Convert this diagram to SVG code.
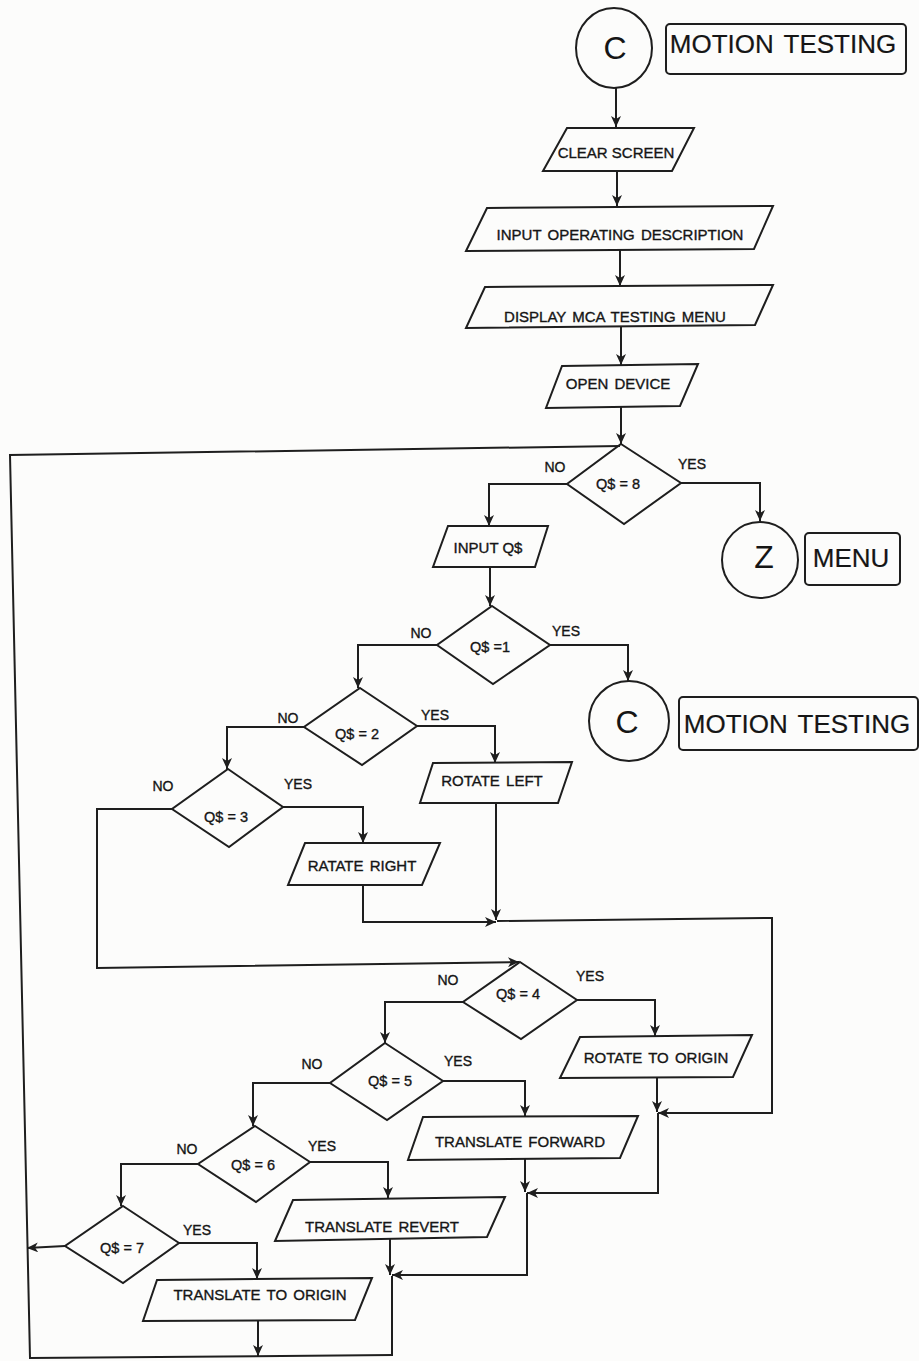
<svg xmlns="http://www.w3.org/2000/svg" width="919" height="1361" viewBox="0 0 919 1361">
  <style>
    .shape { fill: none; stroke: #1e1e1e; stroke-width: 2; stroke-linejoin: miter; }
    .wire { fill: none; stroke: #1e1e1e; stroke-width: 2; }
    .arrow { marker-end: url(#head); }
    text { font-family: "Liberation Sans", Arial, sans-serif; fill: #151515; stroke: #151515; stroke-width: 0.35; text-anchor: middle; }
    .t { font-size: 15px; word-spacing: 2px; }
    .d { font-size: 14.5px; }
    .l { font-size: 14px; }
    .big { font-size: 26px; word-spacing: 3px; stroke-width: 0.2; }
    .con { font-size: 32px; stroke-width: 0; }
  </style>
  <defs>
    <marker id="head" markerUnits="userSpaceOnUse" markerWidth="12" markerHeight="10" refX="11" refY="5" orient="auto">
      <path d="M0,0 L11,5 L0,10 L3,5 z" fill="#1e1e1e"/>
    </marker>
  </defs>

  <rect x="0" y="0" width="919" height="1361" fill="#fcfcfb"/>

  <!-- connectors -->
  <g id="connectors">
    <path class="wire arrow" d="M616,88 V127"/>
    <path class="wire arrow" d="M617,171 V206"/>
    <path class="wire arrow" d="M620,250 V286"/>
    <path class="wire arrow" d="M621,327 V365"/>
    <path class="wire arrow" d="M621,407 V444"/>
    <!-- loop back to Q$ = 8 -->
    <path class="wire" d="M393,1355 L30,1358 L10,455 L620,446"/>
    <!-- Q$ = 8 -->
    <path class="wire arrow" d="M567,484 H489 V526"/>
    <path class="wire arrow" d="M681,483 H760 V521"/>
    <path class="wire arrow" d="M490,567 V606"/>
    <!-- Q$ = 1 -->
    <path class="wire arrow" d="M437,645 H358 V688"/>
    <path class="wire arrow" d="M550,645 H628 V681"/>
    <!-- Q$ = 2 -->
    <path class="wire arrow" d="M304,727 H227 V769"/>
    <path class="wire arrow" d="M417,726 H495 V763"/>
    <!-- Q$ = 3 -->
    <path class="wire arrow" d="M172,809 H97 V968 L519,962"/>
    <path class="wire arrow" d="M283,807 H363 V843"/>
    <!-- rotate merge -->
    <path class="wire arrow" d="M363,885 V922 H496"/>
    <path class="wire arrow" d="M496,803 V920"/>
    <path class="wire arrow" d="M497,921 L772,918 V1113 H658"/>
    <!-- Q$ = 4 -->
    <path class="wire arrow" d="M463,1002 H385 V1043"/>
    <path class="wire arrow" d="M577,1000 H655 V1036"/>
    <path class="wire arrow" d="M657,1077 V1112"/>
    <path class="wire arrow" d="M658,1113 V1193 H527"/>
    <!-- Q$ = 5 -->
    <path class="wire arrow" d="M330,1083 H253 V1126"/>
    <path class="wire arrow" d="M443,1081 H525 V1116"/>
    <path class="wire arrow" d="M525,1159 V1192"/>
    <path class="wire arrow" d="M527,1193 V1275 H392"/>
    <!-- Q$ = 6 -->
    <path class="wire arrow" d="M198,1164 H121 V1206"/>
    <path class="wire arrow" d="M310,1162 H388 V1198"/>
    <path class="wire arrow" d="M390,1239 V1275"/>
    <path class="wire" d="M392,1276 V1355"/>
    <!-- Q$ = 7 -->
    <path class="wire arrow" d="M65,1246 L27,1248"/>
    <path class="wire arrow" d="M179,1243 H257 V1279"/>
    <path class="wire arrow" d="M258,1320 V1356"/>
  </g>

  <g id="start">
    <ellipse class="shape" cx="614" cy="48" rx="38" ry="40"/>
    <text class="con" x="615" y="59">C</text>
  </g>
  <g id="start-label">
    <rect class="shape" x="666" y="24" width="240" height="50" rx="4"/>
    <text class="big" x="783" y="53">MOTION TESTING</text>
  </g>

  <g id="clear-screen">
    <polygon class="shape" points="567,128 694,128 672,171 543,171"/>
    <text class="t" x="616" y="158" style="word-spacing:0">CLEAR SCREEN</text>
  </g>

  <g id="input-description">
    <polygon class="shape" points="487,208 773,206 754,249 466,251"/>
    <text class="t" x="620" y="240">INPUT OPERATING DESCRIPTION</text>
  </g>

  <g id="display-menu">
    <polygon class="shape" points="485,287 773,285 755,325 466,328"/>
    <text class="t" x="615" y="322">DISPLAY MCA TESTING MENU</text>
  </g>

  <g id="open-device">
    <polygon class="shape" points="562,366 698,364 680,406 546,408"/>
    <text class="t" x="618" y="389">OPEN DEVICE</text>
  </g>

  <g id="q8">
    <polygon class="shape" points="621,444 681,483 624,524 567,484"/>
    <text class="d" x="618" y="489">Q$ = 8</text>
    <text class="l" x="555" y="472">NO</text>
    <text class="l" x="692" y="469">YES</text>
  </g>

  <g id="menu-exit">
    <circle class="shape" cx="760" cy="560" r="38"/>
    <text class="con" x="764" y="568">Z</text>
  </g>
  <g id="menu-label">
    <rect class="shape" x="805" y="533" width="95" height="52" rx="4"/>
    <text class="big" x="851" y="567">MENU</text>
  </g>

  <g id="input-q">
    <polygon class="shape" points="448,526 548,526 535,567 433,567"/>
    <text class="t" x="488" y="553" style="word-spacing:0">INPUT Q$</text>
  </g>

  <g id="q1">
    <polygon class="shape" points="492,606 550,645 493,684 437,645"/>
    <text class="d" x="490" y="652">Q$ =1</text>
    <text class="l" x="421" y="638">NO</text>
    <text class="l" x="566" y="636">YES</text>
  </g>

  <g id="restart">
    <circle class="shape" cx="629" cy="721" r="40"/>
    <text class="con" x="627" y="733">C</text>
  </g>
  <g id="restart-label">
    <rect class="shape" x="679" y="697" width="239" height="53" rx="4"/>
    <text class="big" x="797" y="733">MOTION TESTING</text>
  </g>

  <g id="q2">
    <polygon class="shape" points="360,688 417,726 362,765 304,727"/>
    <text class="d" x="357" y="739">Q$ = 2</text>
    <text class="l" x="288" y="723">NO</text>
    <text class="l" x="435" y="720">YES</text>
  </g>

  <g id="rotate-left">
    <polygon class="shape" points="433,763 572,762 558,803 420,803"/>
    <text class="t" x="492" y="786">ROTATE LEFT</text>
  </g>

  <g id="q3">
    <polygon class="shape" points="228,769 283,807 229,847 172,809"/>
    <text class="d" x="226" y="822">Q$ = 3</text>
    <text class="l" x="163" y="791">NO</text>
    <text class="l" x="298" y="789">YES</text>
  </g>

  <g id="rotate-right">
    <polygon class="shape" points="305,843 440,843 422,885 288,885"/>
    <text class="t" x="362" y="871">RATATE RIGHT</text>
  </g>

  <g id="q4">
    <polygon class="shape" points="520,962 577,1000 521,1039 463,1002"/>
    <text class="d" x="518" y="999">Q$ = 4</text>
    <text class="l" x="448" y="985">NO</text>
    <text class="l" x="590" y="981">YES</text>
  </g>

  <g id="rotate-origin">
    <polygon class="shape" points="580,1037 752,1035 733,1077 560,1078"/>
    <text class="t" x="656" y="1063">ROTATE TO ORIGIN</text>
  </g>

  <g id="q5">
    <polygon class="shape" points="385,1043 443,1081 387,1120 330,1083"/>
    <text class="d" x="390" y="1086">Q$ = 5</text>
    <text class="l" x="312" y="1069">NO</text>
    <text class="l" x="458" y="1066">YES</text>
  </g>

  <g id="translate-forward">
    <polygon class="shape" points="423,1117 638,1116 620,1158 408,1160"/>
    <text class="t" x="520" y="1147">TRANSLATE FORWARD</text>
  </g>

  <g id="q6">
    <polygon class="shape" points="255,1126 310,1162 256,1202 198,1164"/>
    <text class="d" x="253" y="1170">Q$ = 6</text>
    <text class="l" x="187" y="1154">NO</text>
    <text class="l" x="322" y="1151">YES</text>
  </g>

  <g id="translate-revert">
    <polygon class="shape" points="293,1200 505,1197 487,1237 275,1241"/>
    <text class="t" x="382" y="1232">TRANSLATE REVERT</text>
  </g>

  <g id="q7">
    <polygon class="shape" points="123,1206 179,1243 123,1283 65,1246"/>
    <text class="d" x="122" y="1253">Q$ = 7</text>
    <text class="l" x="197" y="1235">YES</text>
  </g>

  <g id="translate-origin">
    <polygon class="shape" points="157,1280 372,1278 355,1320 143,1321"/>
    <text class="t" x="260" y="1300">TRANSLATE TO ORIGIN</text>
  </g>
</svg>
